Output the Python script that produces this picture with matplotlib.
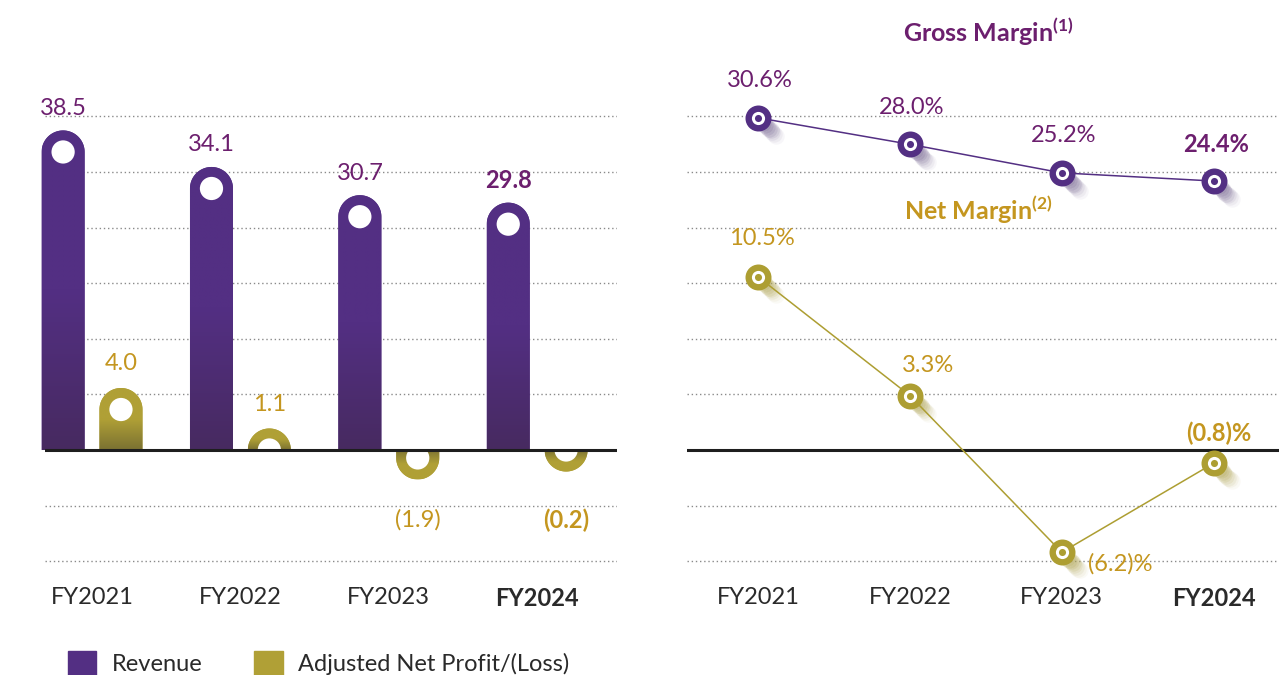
import numpy as np
import matplotlib
matplotlib.use("Agg")
import matplotlib.pyplot as plt
from matplotlib.patches import Ellipse, Rectangle, Patch, PathPatch
from matplotlib.path import Path
from matplotlib.colors import LinearSegmentedColormap
from matplotlib.transforms import offset_copy

plt.rcParams['font.family'] = ['Lato', 'DejaVu Sans']
plt.rcParams['mathtext.fontset'] = 'custom'
plt.rcParams['mathtext.rm'] = 'Lato'
plt.rcParams['mathtext.bf'] = 'Lato:bold'

# data
years = ["FY2021", "FY2022", "FY2023", "FY2024"]
revenue = [38.5, 34.1, 30.7, 29.8]
net_profit = [4.0, 1.1, -1.9, -0.2]
revenue_labels = ["38.5", "34.1", "30.7", "29.8"]
profit_labels = ["4.0", "1.1", "(1.9)", "(0.2)"]
gross_margin = [30.6, 28.0, 25.2, 24.4]
net_margin = [10.5, 3.3, -6.2, -0.8]
gross_labels = ["30.6%", "28.0%", "25.2%", "24.4%"]
net_labels = ["10.5%", "3.3%", "(6.2)%", "(0.8)%"]

PURPLE = "#532f83"
PURPLE_DARK = "#472a60"
OLIVE = "#b0a036"
OLIVE_DARK = "#7a7132"
PLUM = "#6c1f6e"
GOLD = "#c4961f"
GRID = "#8a8a8a"
TXT = "#2a2a2a"

W, H = 1279, 675
fig = plt.figure(figsize=(W / 100, H / 100), dpi=100)

TOP, BOT, ZERO = 60, 580, 450   # pixel rows of the plot area
GRID_STEP = 55.6                # pixels between dotted lines


def px_axes(x0, x1):
    return fig.add_axes([x0 / W, 1 - BOT / H, (x1 - x0) / W, (BOT - TOP) / H])


def clean(a):
    for s in a.spines.values():
        s.set_visible(False)
    a.tick_params(length=0)
    a.set_yticks([])


def grid(a, k):
    for g in range(-2, 7):
        if g != 0:
            a.axhline(g * GRID_STEP / k, color=GRID, lw=1, ls=(0, (1, 2)), zorder=0)


def pill(a, xc, value, width, c_lo, c_hi):
    # rounded-end bar: straight part up to c, half ellipse cap (round on screen)
    t = a.transData
    p0 = t.transform((0, 0))
    p1 = t.transform((width, 1))
    rx = width / 2
    ry = (p1[0] - p0[0]) / 2 / (p1[1] - p0[1])
    s = 1 if value >= 0 else -1
    c = s * max(abs(value) - ry, 0)
    ang = np.linspace(0, np.pi, 60)
    verts = [(xc + rx, 0), (xc + rx, c)]
    verts += [(xc + rx * np.cos(u), c + s * ry * np.sin(u)) for u in ang]
    verts += [(xc - rx, 0), (xc + rx, 0)]
    codes = [Path.MOVETO] + [Path.LINETO] * (len(verts) - 2) + [Path.CLOSEPOLY]
    body = PathPatch(Path(verts, codes), facecolor=c_hi, edgecolor='none', zorder=2)
    a.add_patch(body)
    body.set_clip_on(False)
    tip = c + s * ry
    cmap = LinearSegmentedColormap.from_list("g", [c_lo, c_hi, c_hi])
    grad = np.repeat(np.linspace(0, 1, 256).reshape(-1, 1), 4, axis=1)
    im = a.imshow(grad, cmap=cmap, extent=(xc - rx, xc + rx, 0, tip),
                  origin='lower', aspect='auto', zorder=2.1, interpolation='bilinear')
    im.set_clip_path(body)
    im.set_clip_box(fig.bbox)
    clip = Rectangle((xc - width, 0), 2 * width, s * 1000, transform=a.transData)
    hole = Ellipse((xc, c), width * 0.54, 2 * ry * 0.54, color="white", lw=0, zorder=3)
    a.add_patch(hole)
    hole.set_clip_path(clip)
    hole.set_clip_box(fig.bbox)
    return tip


# ---------------- left: revenue / adjusted net profit ----------------
k_rev, k_np = 8.3, 15.5
ax = px_axes(45, 617)
ax.set_xlim(-0.317, 3.538)
ax.set_ylim(-(BOT - ZERO) / k_rev, (ZERO - TOP) / k_rev)
ax2 = ax.twinx()
ax2.set_ylim(-(BOT - ZERO) / k_np, (ZERO - TOP) / k_np)
clean(ax)
clean(ax2)
grid(ax, k_rev)

off, bw = 0.195, 0.29
x = np.arange(len(years))
for i in x:
    tip = pill(ax, i - off, revenue[i], bw, PURPLE_DARK, PURPLE)
    ax.annotate(revenue_labels[i], (i - off, tip), xytext=(0, 22), textcoords='offset pixels',
                ha='center', va='center', fontsize=17, color=PLUM,
                fontweight='bold' if i == 3 else 'normal')
    tip = pill(ax2, i + off, net_profit[i], bw, OLIVE_DARK, OLIVE)
    if net_profit[i] >= 0:
        ax2.annotate(profit_labels[i], (i + off, tip), xytext=(0, 24), textcoords='offset pixels',
                     ha='center', va='center', fontsize=17, color=GOLD)
    else:
        ax2.annotate(profit_labels[i], (i + off, 0), xytext=(0, -70), textcoords='offset pixels',
                     ha='center', va='center', fontsize=17, color=GOLD,
                     fontweight='bold' if i == 3 else 'normal')
ax.set_xlim(-0.317, 3.538)
ax.set_ylim(-(BOT - ZERO) / k_rev, (ZERO - TOP) / k_rev)
ax2.set_ylim(-(BOT - ZERO) / k_np, (ZERO - TOP) / k_np)
ax2.axhline(0, color="#1e1e1e", lw=2.2, zorder=6)

ax.set_xticks(x)
ax.set_xticklabels(years, fontsize=17, color=TXT)
ax.get_xticklabels()[3].set_fontweight('bold')
ax.tick_params(axis='x', pad=5)

# ---------------- right: margins ----------------
k_nm, k_gm = 16.5, 10.2
gm_ref, gm_px = 27.05, 154
bx = px_axes(687, 1279)
bx.set_xlim(-0.467, 3.43)
bx.set_ylim(-(BOT - ZERO) / k_nm, (ZERO - TOP) / k_nm)
bx2 = bx.twinx()
bx2.set_ylim(gm_ref - (BOT - gm_px) / k_gm, gm_ref + (gm_px - TOP) / k_gm)
clean(bx)
clean(bx2)
grid(bx, k_nm)
bx.axhline(0, color="#1e1e1e", lw=2.2, zorder=1)


def ring_series(a, vals, col, shadow):
    a.plot(x, vals, color=col, lw=1.1, zorder=3)
    for st in range(1, 11):
        d = 1.8 * st
        tr = offset_copy(a.transData, fig=fig, x=d, y=-d, units='dots')
        a.scatter(x, vals, s=140, color=shadow, alpha=0.32 * (1 - st / 12), lw=0,
                  transform=tr, zorder=2)
    a.scatter(x, vals, s=350, color=col, lw=0, zorder=4)
    a.scatter(x, vals, s=90, color="white", lw=0, zorder=5)
    a.scatter(x, vals, s=26, color=col, lw=0, zorder=6)


ring_series(bx2, gross_margin, PURPLE, "#7b6b95")
ring_series(bx, net_margin, "#ad9e32", "#b3a85a")

for i in x:
    bx2.annotate(gross_labels[i], (i, gross_margin[i]), xytext=(2, 37), textcoords='offset pixels',
                 ha='center', va='center', fontsize=17, color=PLUM,
                 fontweight='bold' if i == 3 else 'normal')

net_offsets = [(4, 38), (18, 30), (58, -12), (5, 30)]
for i in x:
    bx.annotate(net_labels[i], (i, net_margin[i]), xytext=net_offsets[i], textcoords='offset pixels',
                ha='center', va='center', fontsize=17, color=GOLD,
                fontweight='bold' if i == 3 else 'normal')

bx.set_xticks(x)
bx.set_xticklabels(years, fontsize=17, color=TXT)
bx.get_xticklabels()[3].set_fontweight('bold')
bx.tick_params(axis='x', pad=5)
bx2.set_xlim(-0.467, 3.43)

fig.text(988 / W, 1 - 32 / H, r"Gross Margin$^{\mathbf{(1)}}$", ha='center', va='center',
         fontsize=18, fontweight='bold', color=PLUM)
fig.text(978 / W, 1 - 210 / H, r"Net Margin$^{\mathbf{(2)}}$", ha='center', va='center',
         fontsize=18, fontweight='bold', color=GOLD)

handles = [Patch(color=PURPLE, label="Revenue"),
           Patch(color=OLIVE, label="Adjusted Net Profit/(Loss)")]
fig.legend(handles=handles, ncol=2, loc='center left', bbox_to_anchor=(68 / W, 1 - 663 / H),
           frameon=False, fontsize=17, handlelength=1.2, handleheight=1.2,
           handletextpad=0.65, columnspacing=2.2, borderpad=0, borderaxespad=0,
           labelcolor=TXT)

fig.savefig("out.png", dpi=100)
